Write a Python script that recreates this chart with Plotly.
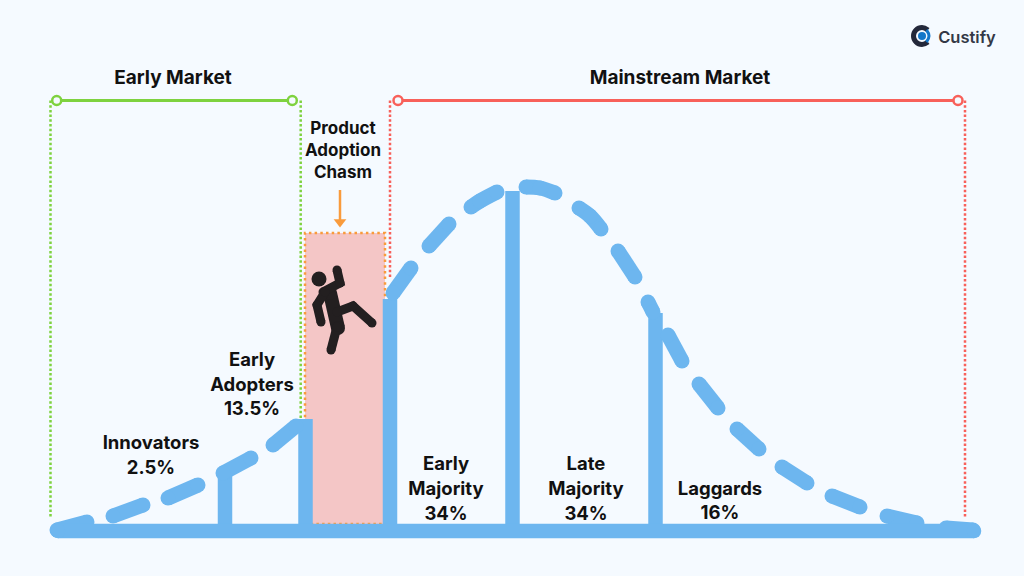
'''Technology adoption curve with the product adoption chasm.'''

import plotly.graph_objects as go

BLUE = "#6DB6EF"
BG = "#F5FAFF"
GREEN = "#7ED23F"
RED = "#F8605A"
ORANGE = "#F99B3C"
INK = "#111111"
FIGURE = "#231F20"

# x is the position along the curve, y the height above the base line
dash_x = [57, 87, None, 113, 143, None, 168, 198, None, 223, 251, None,
          273, 296, None, 393, 411, None, 429, 449, None,
          471, 480, 497, None, 526, 540, 555, None, 579, 590, 601, None,
          618, 635, None, 648, 653, None, 668, 682, None, 699, 718, None,
          737, 759, None, 782, 807, None, 832, 860, None, 887, 917, None,
          946, 973]
dash_y = [1, 9, None, 15, 26, None, 33, 46, None, 58, 73, None,
          86, 105, None, 238, 263, None, 285, 307, None,
          324, 330, 339, None, 344, 343, 338, None, 323, 315, 302, None,
          280, 254, None, 229, 219, None, 196, 170, None, 147, 123, None,
          102, 82, None, 64, 48, None, 35, 24, None, 15, 8, None,
          3, 1]

base_x = [58, 974]
base_y = [0, 0]

# vertical bars separating the groups
bar_x = [225, 305.5, 390, 512.5, 655.5]
bar_y = [58, 112, 232, 340, 218]

# chasm box
chasm_x = [305, 385]
chasm_y = [7, 298]

# market brackets
early_x = [56.7, 292.3]
main_x = [398, 958]
bracket_y = [430.5, 430.5]
early_guides = [50.5, 300.7]
main_guides = [390, 965]
guide_top = 430.5
early_guide_bottom = [13, 112]
main_guide_bottom = [253, 13]

arrow_x = [340, 340]
arrow_y = [341, 311]
arrow_head_x = [340]
arrow_head_y = [309]

# falling man
head_x = [319]
head_y = [252]
torso_x = [330, 338]
torso_y = [238, 203]
limbs = [
    ([323, 340, 337], [239, 248, 261]),
    ([325, 317, 321], [239, 226, 209]),
    ([337, 353, 372], [219, 225, 208]),
    ([337, 331], [204, 181]),
]

# text
label_text = ["Early Market", "Mainstream Market",
              "Product", "Adoption", "Chasm",
              "Innovators", "2.5%",
              "Early", "Adopters", "13.5%",
              "Early", "Majority", "34%",
              "Late", "Majority", "34%",
              "Laggards", "16%"]
label_x = [173, 680, 343, 343, 343, 151, 151, 252, 252, 252,
           446, 446, 446, 586, 586, 586, 720, 720]
label_y = [452, 452, 401, 379, 357, 87, 62, 170, 145, 121,
           66, 41, 16, 66, 41, 16, 41, 17]
label_size = [19, 19, 17, 17, 17, 18.5, 18.5, 18.5, 18.5, 18.5,
              18.5, 18.5, 18.5, 18.5, 18.5, 18.5, 18.5, 18.5]

# logo
logo_arc_x = [928, 922, 916, 913.5, 916, 922, 928]
logo_arc_y = [501, 503.5, 501, 495, 489, 486.5, 489]
logo_blue_x = [926.5, 929, 926.5]
logo_blue_y = [501, 495, 489]
logo_dot_x = [922]
logo_dot_y = [495]


fig = go.Figure()

fig.add_trace(go.Bar(x=bar_x, y=bar_y, width=14.5, marker=dict(color=BLUE, line=dict(width=0))))

fig.add_trace(go.Scatter(x=dash_x, y=dash_y, mode="lines+markers",
                         line=dict(color=BLUE, width=15, shape="spline"),
                         marker=dict(color=BLUE, size=15, line=dict(width=0))))
fig.add_trace(go.Scatter(x=base_x, y=base_y, mode="lines+markers",
                         line=dict(color=BLUE, width=14.5),
                         marker=dict(color=BLUE, size=14.5, line=dict(width=0))))

# brackets and their dotted guides
for xs, guides, bottoms, colour in [(early_x, early_guides, early_guide_bottom, GREEN),
                                    (main_x, main_guides, main_guide_bottom, RED)]:
    for gx, gb in zip(guides, bottoms):
        fig.add_trace(go.Scatter(x=[gx, gx], y=[guide_top, gb], mode="lines",
                                 line=dict(color=colour, width=2.5, dash="2.5px,2.2px")))
    fig.add_trace(go.Scatter(x=xs, y=bracket_y, mode="lines+markers",
                             line=dict(color=colour, width=3),
                             marker=dict(color=BG, size=9, line=dict(color=colour, width=2.5))))

fig.add_trace(go.Scatter(x=arrow_x, y=arrow_y, mode="lines", line=dict(color=ORANGE, width=2.5)))
fig.add_trace(go.Scatter(x=arrow_head_x, y=arrow_head_y, mode="markers",
                         marker=dict(color=ORANGE, size=11, symbol="triangle-down", line=dict(width=0))))

# falling man
fig.add_trace(go.Scatter(x=head_x, y=head_y, mode="markers",
                         marker=dict(color=FIGURE, size=15, line=dict(width=0))))
fig.add_trace(go.Scatter(x=torso_x, y=torso_y, mode="lines+markers",
                         line=dict(color=FIGURE, width=14),
                         marker=dict(color=FIGURE, size=14, line=dict(width=0))))
for lx, ly in limbs:
    fig.add_trace(go.Scatter(x=lx, y=ly, mode="lines+markers",
                             line=dict(color=FIGURE, width=9),
                             marker=dict(color=FIGURE, size=9, line=dict(width=0))))

# logo
fig.add_trace(go.Scatter(x=logo_arc_x, y=logo_arc_y, mode="lines",
                         line=dict(color="#23283A", width=5, shape="spline", smoothing=1.3)))
fig.add_trace(go.Scatter(x=logo_blue_x, y=logo_blue_y, mode="lines",
                         line=dict(color="#1477C9", width=3, shape="spline", smoothing=1.3)))
fig.add_trace(go.Scatter(x=logo_dot_x, y=logo_dot_y, mode="markers",
                         marker=dict(color="#1477C9", size=8, line=dict(width=0))))

fig.add_trace(go.Scatter(x=label_x, y=label_y, text=label_text, mode="text",
                         textposition="middle center",
                         textfont=dict(family="Inter", size=label_size, color=INK, weight=700)))
fig.add_trace(go.Scatter(x=[967], y=[492], text=["Custify"], mode="text",
                         textposition="middle center",
                         textfont=dict(family="Inter", size=16.5, color="#333846", weight=600)))

fig.update_layout(
    width=1024, height=576,
    margin=dict(l=0, r=0, t=0, b=0),
    paper_bgcolor=BG, plot_bgcolor=BG,
    showlegend=False,
    shapes=[dict(type="rect", layer="below", xref="x", yref="y",
                 x0=chasm_x[0], x1=chasm_x[1], y0=chasm_y[0], y1=chasm_y[1],
                 fillcolor="#F4C6C6",
                 line=dict(color=ORANGE, width=2.5, dash="2.5px,3.2px"))],
    xaxis=dict(range=[0, 1024], visible=False, fixedrange=True),
    yaxis=dict(range=[-45, 531], visible=False, fixedrange=True),
)

# the page's default body margin would push the figure 8px in
fig.write_html("out.html", config={"displayModeBar": False},
               post_script="document.body.style.margin='0';document.body.style.overflow='hidden';")
